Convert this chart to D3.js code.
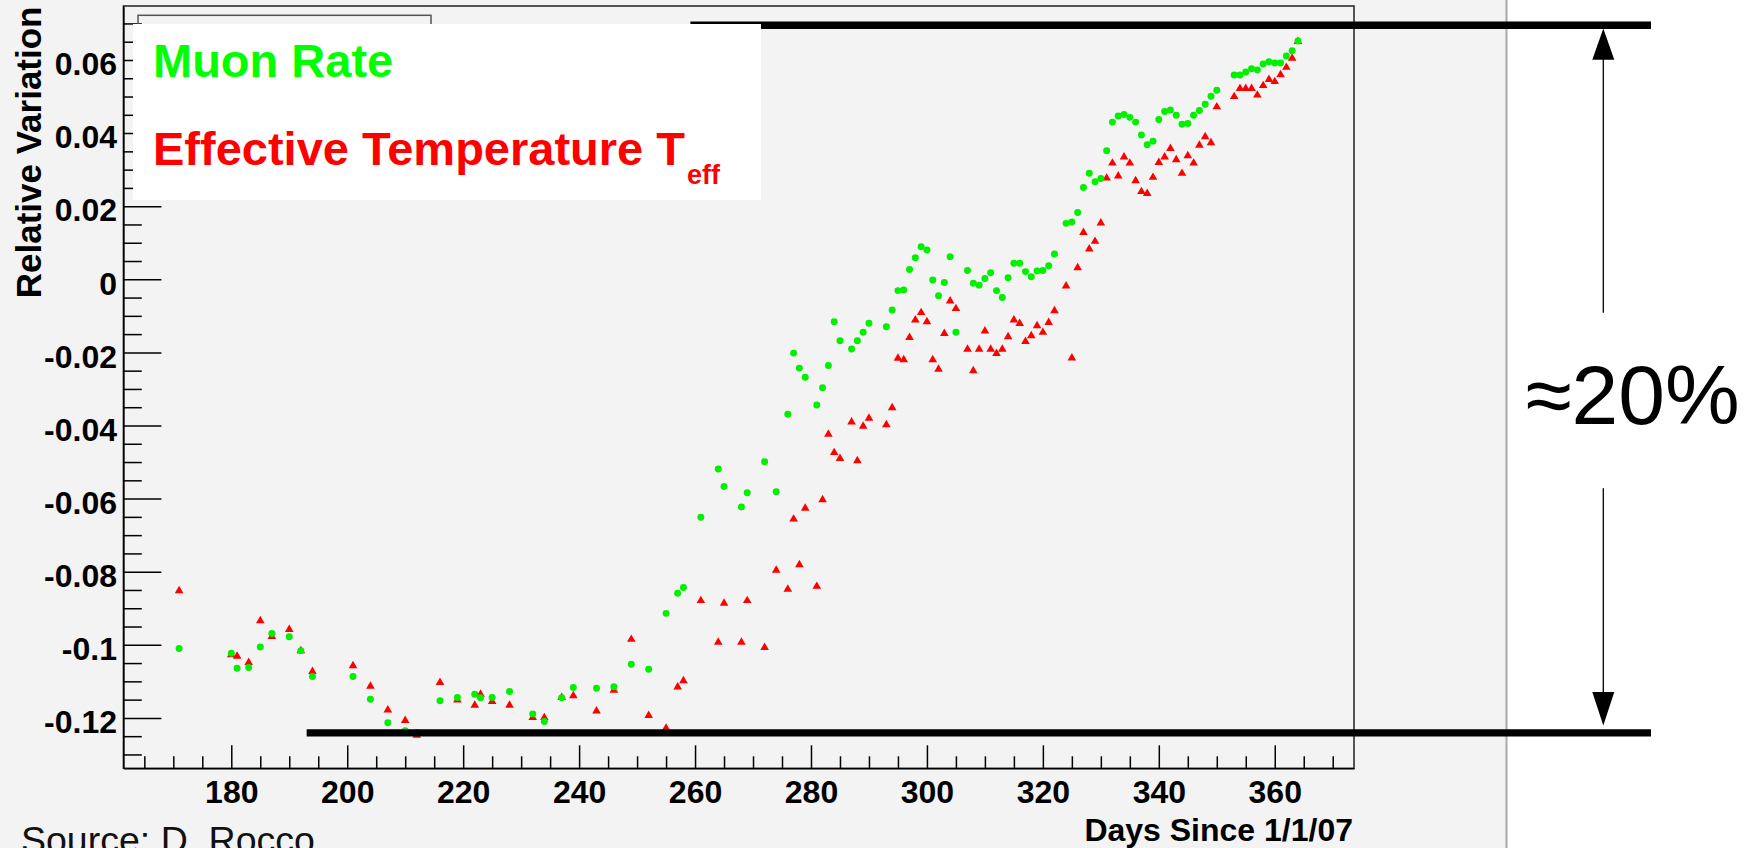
<!DOCTYPE html>
<html>
<head>
<meta charset="utf-8">
<script src="https://cdn.jsdelivr.net/npm/d3@7"></script>
<style>
  body { margin: 0; background: #f3f3f3; }
  svg { display: block; font-family: 'Liberation Sans', Arial, sans-serif; }
  .tick text { font-size: 32px; font-weight: bold; fill: #000; }
  .tick line { stroke: #000; stroke-width: 1.5; }
</style>
</head>
<body>
<svg width="1757" height="848"></svg>
<script>
  // days since 1/1/07
  const days = [171, 180, 181, 183, 185, 187, 190, 192, 194, 201, 204, 207, 210, 212, 216, 219, 222, 223, 225, 228,
    232, 234, 237, 239, 243, 246, 249, 252, 255, 257, 258, 261, 264, 265, 268, 269, 272, 274, 276, 277,
    278, 279, 281, 282, 283, 284, 285, 287, 288, 289, 290, 293, 294, 295, 296, 297, 298, 299, 300, 301,
    302, 303, 304, 305, 307, 308, 309, 310, 311, 312, 313, 314, 315, 316, 317, 318, 319, 320, 321, 322,
    324, 325, 326, 327, 328, 329, 330, 331, 332, 333, 334, 335, 336, 337, 338, 339, 340, 341, 342, 343,
    344, 345, 346, 347, 348, 349, 350, 353, 354, 355, 356, 357, 358, 359, 360, 361, 362, 363, 364];

  // muon rate (green)
  const muonRate = [-0.101, -0.1023, -0.1064, -0.1062, -0.1006, -0.0969, -0.0978, -0.1016, -0.1087, -0.1087,
    -0.1149, -0.1213, -0.1235, -0.124, -0.1153, -0.1144, -0.1135, -0.1145, -0.1144, -0.1128,
    -0.1189, -0.121, -0.1145, -0.1117, -0.1119, -0.1115, -0.1053, -0.1067, -0.0914, -0.0859,
    -0.0843, -0.0651, -0.0519, -0.0567, -0.0623, -0.0584, -0.0499, -0.0581, -0.0369, -0.0202,
    -0.0243, -0.0268, -0.0344, -0.0297, -0.0236, -0.0116, -0.0168, -0.0191, -0.0168, -0.0145,
    -0.012, -0.013, -0.0084, -0.0031, -0.0029, 0.0027, 0.0059, 0.0089, 0.008, -0.0002,
    -0.0045, -0.0009, 0.0062, -0.0145, 0.0024, -0.0011, -0.0016, 0.0002, 0.0018, -0.0031,
    -0.005, 0.0004, 0.0044, 0.0044, 0.0021, 0.0007, 0.0023, 0.0024, 0.0037, 0.0069,
    0.0153, 0.0157, 0.0183, 0.0251, 0.029, 0.0267, 0.0276, 0.0352, 0.043, 0.0447,
    0.0451, 0.0443, 0.043, 0.0395, 0.0368, 0.0378, 0.0437, 0.0459, 0.0463, 0.0449,
    0.0424, 0.0426, 0.0449, 0.0462, 0.0479, 0.0501, 0.0517, 0.0559, 0.0559, 0.0567,
    0.0576, 0.0573, 0.0589, 0.0595, 0.0592, 0.0592, 0.0611, 0.0625, 0.0652];

  // effective temperature (red)
  const effTemp = [-0.085, -0.1025, -0.1029, -0.1046, -0.0932, -0.0975, -0.0956, -0.1014, -0.1071, -0.1055,
    -0.1111, -0.1176, -0.1205, -0.1245, -0.1101, -0.1149, -0.1163, -0.1133, -0.1153, -0.1163,
    -0.1197, -0.1197, -0.1142, -0.1137, -0.1179, -0.1122, -0.0983, -0.1191, -0.1226, -0.1113,
    -0.1096, -0.0877, -0.0991, -0.0884, -0.0991, -0.0877, -0.1005, -0.0794, -0.0846, -0.0654,
    -0.0779, -0.0624, -0.0838, -0.0601, -0.0422, -0.0472, -0.0488, -0.0388, -0.0494, -0.04,
    -0.0378, -0.0396, -0.0349, -0.0214, -0.0218, -0.0157, -0.0109, -0.0089, -0.0114, -0.0218,
    -0.0244, -0.0146, -0.0057, -0.0078, -0.0189, -0.0248, -0.0189, -0.0139, -0.0189, -0.0201,
    -0.0189, -0.0155, -0.0109, -0.0119, -0.0168, -0.0152, -0.0125, -0.0143, -0.0116, -0.0084,
    -0.0016, -0.0213, 0.0034, 0.013, 0.0085, 0.0106, 0.0156, 0.0279, 0.032, 0.0285,
    0.0337, 0.032, 0.0272, 0.0242, 0.0237, 0.0281, 0.0322, 0.0337, 0.036, 0.0329,
    0.0292, 0.034, 0.032, 0.0369, 0.0392, 0.0376, 0.0474, 0.0502, 0.0524, 0.0524,
    0.0524, 0.0506, 0.0532, 0.0549, 0.0543, 0.0562, 0.0582, 0.0607, 0.0653];

  const xTicks = [180, 200, 220, 240, 260, 280, 300, 320, 340, 360];
  const yTicks = [-0.12, -0.1, -0.08, -0.06, -0.04, -0.02, 0, 0.02, 0.04, 0.06];
  const yTickLabels = ['-0.12', '-0.1', '-0.08', '-0.06', '-0.04', '-0.02', '0', '0.02', '0.04', '0.06'];

  // the two bands marked on the plot (about 20% apart)
  const topLevel = 0.0695;
  const bottomLevel = -0.1241;

  const svg = d3.select('svg');
  const width = +svg.attr('width');
  const height = +svg.attr('height');

  const margin = {top: 6, right: 403, bottom: 79.7, left: 123.4};
  const innerWidth = width - margin.left - margin.right;
  const innerHeight = height - margin.top - margin.bottom;

  const xScale = d3.scaleLinear()
    .domain([161.39, 373.67])
    .range([0, innerWidth]);

  const yScale = d3.scaleLinear()
    .domain([-0.13379, 0.07477])
    .range([innerHeight, 0]);

  // background: grey canvas, white strip on the right
  svg.append('rect')
    .attr('width', width).attr('height', height)
    .attr('fill', '#f3f3f3');
  svg.append('rect')
    .attr('x', 1507).attr('width', width - 1507).attr('height', height)
    .attr('fill', '#fff');
  svg.append('line')
    .attr('x1', 1506.5).attr('x2', 1506.5).attr('y1', 0).attr('y2', height)
    .attr('stroke', '#aaa').attr('stroke-width', 2);

  const g = svg.append('g')
    .attr('transform', `translate(${margin.left}, ${margin.top})`);

  g.append('rect')
    .attr('width', innerWidth).attr('height', innerHeight)
    .attr('fill', 'none')
    .attr('stroke', '#222')
    .attr('stroke-width', 1.5);

  // x axis, ticks pointing up
  const xMinor = d3.range(165, 373, 5).filter(d => d % 20 !== 0);
  const xMinorG = g.append('g')
    .attr('transform', `translate(0, ${innerHeight})`)
    .call(d3.axisBottom(xScale).tickValues(xMinor).tickFormat('').tickSizeInner(-12).tickSizeOuter(0));
  xMinorG.select('.domain').remove();
  xMinorG.selectAll('text').remove();

  const xAxisG = g.append('g')
    .attr('transform', `translate(0, ${innerHeight})`)
    .call(d3.axisBottom(xScale).tickValues(xTicks).tickSizeInner(-23).tickSizeOuter(0));
  xAxisG.select('.domain').attr('stroke', '#000').attr('stroke-width', 1.5);
  xAxisG.selectAll('text').attr('y', 34.7).attr('dy', null);

  // y axis
  const yMinor = d3.range(-0.13, 0.0749, 0.005).filter(d => Math.abs(Math.round(d * 1000) % 20) !== 0);
  const yMinorG = g.append('g')
    .call(d3.axisLeft(yScale).tickValues(yMinor).tickFormat('').tickSizeInner(-18.4).tickSizeOuter(0));
  yMinorG.select('.domain').remove();
  yMinorG.selectAll('text').remove();

  const yAxisG = g.append('g')
    .call(d3.axisLeft(yScale).tickValues(yTicks)
      .tickFormat((d, i) => yTickLabels[i])
      .tickSizeInner(-38).tickSizeOuter(0).tickPadding(6.4));
  yAxisG.select('.domain').attr('stroke', '#000').attr('stroke-width', 1.5);
  yAxisG.selectAll('text').attr('dy', '0.46em');

  // markers: temperature first, muon rate on top
  const points = days.map((d, i) => ({day: d, muon: muonRate[i], temp: effTemp[i]}));

  g.selectAll('.temp').data(points)
    .enter().append('path')
      .attr('class', 'temp')
      .attr('transform', d => `translate(${xScale(d.day)}, ${yScale(d.temp) + 0.8})`)
      .attr('d', d3.symbol(d3.symbolTriangle, 32))
      .attr('fill', '#ff0000');

  g.selectAll('.muon').data(points)
    .enter().append('path')
      .attr('class', 'muon')
      .attr('transform', d => `translate(${xScale(d.day)}, ${yScale(d.muon)})`)
      .attr('d', d3.symbol(d3.symbolCircle, 38))
      .attr('fill', '#00f000');

  // thick band lines
  const yTop = margin.top + yScale(topLevel);
  const yBottom = margin.top + yScale(bottomLevel);
  const lineEnd = 1651;
  svg.append('line')
    .attr('x1', margin.left + xScale(259.2)).attr('x2', lineEnd)
    .attr('y1', yTop).attr('y2', yTop)
    .attr('stroke', '#000').attr('stroke-width', 7.3);
  svg.append('line')
    .attr('x1', margin.left + xScale(193)).attr('x2', lineEnd)
    .attr('y1', yBottom).attr('y2', yBottom)
    .attr('stroke', '#000').attr('stroke-width', 7.3);

  // double arrow with label
  const ax = 1603.3;
  const arrowG = svg.append('g').attr('stroke', '#000').attr('fill', '#000');
  arrowG.append('line')
    .attr('x1', ax).attr('x2', ax).attr('y1', yTop + 30).attr('y2', 312.7)
    .attr('stroke-width', 1.3);
  arrowG.append('line')
    .attr('x1', ax).attr('x2', ax).attr('y1', 488.3).attr('y2', yBottom - 35)
    .attr('stroke-width', 1.3);
  arrowG.append('path')
    .attr('d', `M${ax},${yTop + 3.3} L${ax - 11},${yTop + 34.5} L${ax + 11},${yTop + 34.5} Z`)
    .attr('stroke', 'none');
  arrowG.append('path')
    .attr('d', `M${ax},${yBottom - 7.5} L${ax - 11},${yBottom - 41} L${ax + 11},${yBottom - 41} Z`)
    .attr('stroke', 'none');

  svg.append('text')
    .attr('x', 1632.5).attr('y', 424)
    .attr('text-anchor', 'middle')
    .style('font-size', '84px')
    .text('\u224820%');

  // legend box
  svg.append('rect')
    .attr('x', 138).attr('y', 15.3).attr('width', 293).attr('height', 60)
    .attr('fill', 'none').attr('stroke', '#555').attr('stroke-width', 1.5);
  svg.append('rect')
    .attr('x', 133).attr('y', 24).attr('width', 628).attr('height', 176)
    .attr('fill', '#fff');

  svg.append('text')
    .attr('x', 153).attr('y', 77)
    .attr('fill', '#00ff00')
    .style('font-size', '47px').style('font-weight', 'bold')
    .text('Muon Rate');

  const tempLabel = svg.append('text')
    .attr('x', 153).attr('y', 165)
    .attr('fill', '#ff0000')
    .style('font-size', '47px').style('font-weight', 'bold');
  tempLabel.append('tspan').text('Effective Temperature T');
  tempLabel.append('tspan')
    .attr('dy', 19).attr('dx', 2)
    .style('font-size', '27px')
    .text('eff');

  // axis titles
  svg.append('text')
    .attr('x', 1353).attr('y', 841)
    .attr('text-anchor', 'end')
    .style('font-size', '32px').style('font-weight', 'bold')
    .text('Days Since 1/1/07');

  svg.append('text')
    .attr('transform', 'translate(41, 6.5) rotate(-90)')
    .attr('text-anchor', 'end')
    .style('font-size', '35px').style('font-weight', 'bold')
    .text('Relative Variation');

  svg.append('text')
    .attr('x', 21).attr('y', 853)
    .attr('fill', '#111')
    .style('font-size', '37.5px')
    .text('Source: D. Rocco');
</script>
</body>
</html>
